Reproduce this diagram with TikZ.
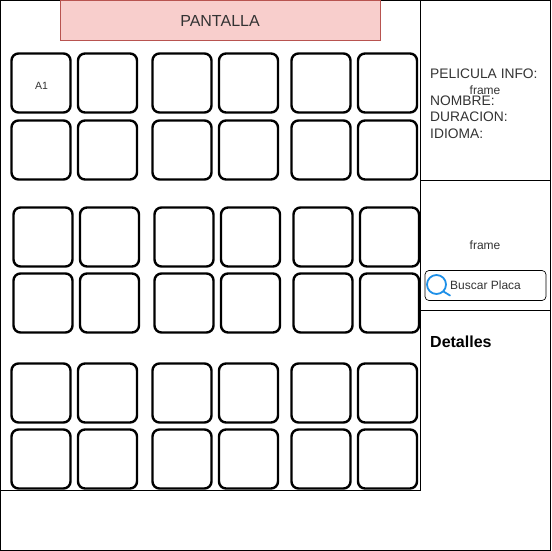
\documentclass[tikz,border=0pt]{standalone}
\usepackage{fontspec}
\setmainfont{Liberation Sans}
\usepackage{xcolor}
\usetikzlibrary{positioning}
\definecolor{pantallafill}{HTML}{F8CECC}
\definecolor{pantallaline}{HTML}{B85450}
\definecolor{lupa}{HTML}{1E90E8}
\definecolor{texto}{HTML}{333333}
\tikzset{
  seat/.style={draw=black, line width=2.4pt, rounded corners=7pt, minimum width=59pt, minimum height=59pt, inner sep=0pt, fill=white, text=texto},
  panel/.style={draw=black, line width=0.9pt},
  info/.style={anchor=west, inner sep=0pt, text=texto, font=\fontsize{13.8}{15}\selectfont},
  small/.style={inner sep=0pt, text=texto, font=\fontsize{12}{13}\selectfont},
}
\begin{document}
\begin{tikzpicture}[x=1pt, y=-1pt]
\useasboundingbox (0,0) rectangle (551,551);
% frames
\draw[panel] (0.5,0.5) rectangle (550.5,550.5);
\draw[panel] (0.5,0.5) rectangle (420.5,490.5);
\draw[panel] (420.5,0.5) rectangle (550.5,180.5);
\draw[panel] (420.5,180.5) rectangle (550.5,310.5);
% screen
\node[draw=pantallaline, fill=pantallafill, line width=0.7pt, minimum width=320pt, minimum height=40pt, inner sep=0pt] (pantalla) at (220.5,20.5) {};
\node[text=texto, inner sep=0pt, font=\fontsize{16}{18}\selectfont] (titulopantalla) at (220,20.5) {PANTALLA};
% top and bottom blocks
\foreach \row/\y in {a/83, b/150, e/393, f/459} {
  \foreach \col/\x in {1/41, 2/107.5, 3/182, 4/248.5, 5/321, 6/387.5} {
    \node[seat] (seat\row\col) at (\x,\y) {};
  }
}
% middle block
\foreach \row/\y in {c/237, d/303} {
  \foreach \col/\x in {1/43, 2/109.5, 3/184, 4/250.5, 5/323, 6/389.5} {
    \node[seat] (seat\row\col) at (\x,\y) {};
  }
}
\node[small, font=\fontsize{10.5}{12}\selectfont] (labelA) at (41.5,85.5) {A1};
% movie info
\node[info] (titulo) at (430,74) {PELICULA INFO:};
\node[info] (nombre) at (430,101) {NOMBRE:};
\node[info] (duracion) at (430,117) {DURACION:};
\node[info] (idioma) at (430,133.5) {IDIOMA:};
\node[small] (frameA) at (485,90) {frame};
\node[small] (frameB) at (485,245) {frame};
% search box
\node[draw=black, line width=0.7pt, rounded corners=4pt, minimum width=121pt, minimum height=30pt, inner sep=0pt] (buscar) at (485.5,285.5) {};
\node[small, anchor=west] (placa) at (450,285) {Buscar Placa};
\draw[lupa, line width=1.8pt] (436.5,284.5) circle (9.5pt);
\draw[lupa, line width=1.8pt, line cap=round] (443.5,291.5) -- (450,295.5);
\node[info, text=black, font=\bfseries\fontsize{16}{18}\selectfont] (detalles) at (430,342) {Detalles};
\end{tikzpicture}
\end{document}
